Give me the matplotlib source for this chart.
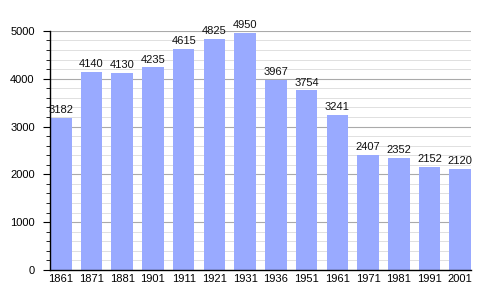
import matplotlib
matplotlib.use("Agg")
import matplotlib.pyplot as plt
from matplotlib.ticker import MultipleLocator

plt.rcParams["font.family"] = ["Liberation Sans", "DejaVu Sans"]

years = ["1861", "1871", "1881", "1901", "1911", "1921", "1931",
         "1936", "1951", "1961", "1971", "1981", "1991", "2001"]
population = [3182, 4140, 4130, 4235, 4615, 4825, 4950,
              3967, 3754, 3241, 2407, 2352, 2152, 2120]

fig = plt.figure(figsize=(5, 3), dpi=100)
ax = fig.add_axes([0.1, 0.1, 0.842, 0.797])

x = range(len(years))
ax.bar(x, population, width=0.7, color="#99aaff", zorder=2)
for i, v in enumerate(population):
    ax.text(i, v + 60, str(v), ha="center", va="bottom", fontsize=8, color="#111111")

ax.set_xlim(-0.35, len(years) - 0.65)
ax.set_ylim(0, 5000)
ax.set_xticks(list(x))
ax.set_xticklabels(years, fontsize=8)
ax.yaxis.set_major_locator(MultipleLocator(1000))
ax.yaxis.set_minor_locator(MultipleLocator(200))
ax.tick_params(axis="y", which="major", length=5, labelsize=8, pad=6)
ax.tick_params(axis="y", which="minor", length=3)
ax.tick_params(axis="x", length=0, pad=3)

ax.grid(axis="y", which="major", color="#aaaaaa", linewidth=0.8, zorder=0)
ax.grid(axis="y", which="minor", color="#e0e0e0", linewidth=0.7, zorder=0)
ax.set_axisbelow(True)

for s in ["top", "right"]:
    ax.spines[s].set_visible(False)
ax.spines["left"].set_linewidth(1)
ax.spines["bottom"].set_linewidth(1)

fig.savefig("out.png", dpi=100)
